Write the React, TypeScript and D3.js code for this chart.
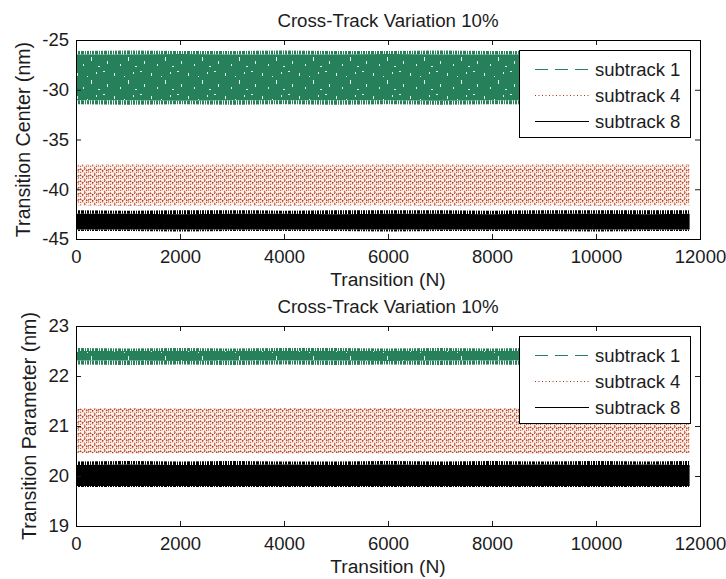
import React, { useEffect, useRef } from "react";
import * as d3 from "d3";

// sample positions along the transition index where the band edges were read
const transitionN = [0, 1000, 2000, 3000, 4000, 5000, 6000, 7000, 8000, 9000, 10000, 11000, 11800];
const xTicks = [0, 2000, 4000, 6000, 8000, 10000, 12000];
const seriesNames = ["subtrack 1", "subtrack 4", "subtrack 8"];

// Transition Center (nm), upper plot: envelope of each noisy trace
const centerYTicks = [-45, -40, -35, -30, -25];
const centerSub1Max = [-26.1, -26.05, -26.1, -26.1, -26.05, -26.1, -26.1, -26.05, -26.1, -26.1, -26.1, -26.05, -26.1];
const centerSub1CoreHi = [-26.45, -26.45, -26.4, -26.45, -26.45, -26.45, -26.4, -26.45, -26.45, -26.45, -26.45, -26.45, -26.45];
const centerSub1CoreLo = [-31.05, -31.05, -31.1, -31.05, -31.05, -31.05, -31.05, -31.1, -31.05, -31.05, -31.05, -31.05, -31.05];
const centerSub1Min = [-31.45, -31.5, -31.45, -31.5, -31.45, -31.5, -31.45, -31.5, -31.45, -31.5, -31.45, -31.5, -31.45];
const centerSub4Max = [-37.55, -37.5, -37.55, -37.5, -37.5, -37.55, -37.5, -37.5, -37.55, -37.5, -37.5, -37.55, -37.5];
const centerSub4Min = [-41.6, -41.65, -41.6, -41.6, -41.65, -41.6, -41.6, -41.65, -41.6, -41.6, -41.65, -41.6, -41.6];
const centerSub8Max = [-42.1, -42.15, -42.1, -42.1, -42.15, -42.1, -42.1, -42.1, -42.15, -42.1, -42.1, -42.1, -42.1];
const centerSub8CoreHi = [-42.45, -42.45, -42.5, -42.45, -42.45, -42.5, -42.45, -42.45, -42.5, -42.45, -42.45, -42.5, -42.45];
const centerSub8CoreLo = [-44.05, -44.05, -44.05, -44.05, -44.05, -44.05, -44.05, -44.05, -44.05, -44.05, -44.05, -44.05, -44.05];
const centerSub8Min = [-44.2, -44.2, -44.25, -44.2, -44.2, -44.2, -44.25, -44.2, -44.2, -44.2, -44.25, -44.2, -44.2];

// Transition Parameter (nm), lower plot
const paramYTicks = [19, 20, 21, 22, 23];
const paramSub1Max = [22.56, 22.55, 22.56, 22.55, 22.56, 22.56, 22.55, 22.56, 22.55, 22.56, 22.56, 22.55, 22.56];
const paramSub1CoreHi = [22.5, 22.5, 22.5, 22.5, 22.5, 22.5, 22.5, 22.5, 22.5, 22.5, 22.5, 22.5, 22.5];
const paramSub1CoreLo = [22.31, 22.31, 22.3, 22.31, 22.31, 22.31, 22.3, 22.31, 22.31, 22.31, 22.3, 22.31, 22.31];
const paramSub1Min = [22.23, 22.22, 22.23, 22.22, 22.23, 22.22, 22.23, 22.22, 22.23, 22.22, 22.23, 22.22, 22.23];
const paramSub4Max = [21.35, 21.36, 21.35, 21.35, 21.36, 21.35, 21.36, 21.35, 21.35, 21.36, 21.35, 21.36, 21.35];
const paramSub4Min = [20.46, 20.45, 20.46, 20.46, 20.45, 20.46, 20.45, 20.46, 20.46, 20.45, 20.46, 20.45, 20.46];
const paramSub8Max = [20.29, 20.3, 20.29, 20.3, 20.29, 20.29, 20.3, 20.29, 20.3, 20.29, 20.3, 20.29, 20.3];
const paramSub8CoreHi = [20.22, 20.23, 20.22, 20.22, 20.23, 20.22, 20.23, 20.22, 20.22, 20.23, 20.22, 20.23, 20.22];
const paramSub8CoreLo = [19.8, 19.8, 19.8, 19.8, 19.8, 19.8, 19.8, 19.8, 19.8, 19.8, 19.8, 19.8, 19.8];
const paramSub8Min = [19.78, 19.78, 19.78, 19.78, 19.78, 19.78, 19.78, 19.78, 19.78, 19.78, 19.78, 19.78, 19.78];

const FONT = "'Liberation Sans', Arial, Helvetica, sans-serif";
const GREEN = "#26805a";
const RED = "#a82f18";
const BLACK = "#000";
const INK = "#1c1c1c";

type Panel = {
  top: number;
  bottom: number;
  left: number;
  right: number;
  yDomain: [number, number];
  yTicks: number[];
  yLabel: string;
  yLabelX: number;
  sub1: number[][];
  sub4: number[][];
  sub8: number[][];
};

const panels: Panel[] = [
  {
    top: 40, bottom: 239, left: 76, right: 700,
    yDomain: [-45, -25], yTicks: centerYTicks,
    yLabel: "Transition Center (nm)", yLabelX: 30,
    sub1: [centerSub1Max, centerSub1CoreHi, centerSub1CoreLo, centerSub1Min],
    sub4: [centerSub4Max, centerSub4Min],
    sub8: [centerSub8Max, centerSub8CoreHi, centerSub8CoreLo, centerSub8Min],
  },
  {
    top: 326, bottom: 526, left: 76, right: 700,
    yDomain: [19, 23], yTicks: paramYTicks,
    yLabel: "Transition Parameter (nm)", yLabelX: 36,
    sub1: [paramSub1Max, paramSub1CoreHi, paramSub1CoreLo, paramSub1Min],
    sub4: [paramSub4Max, paramSub4Min],
    sub8: [paramSub8Max, paramSub8CoreHi, paramSub8CoreLo, paramSub8Min],
  },
];

function makeDefs(svg: any) {
  const defs = svg.append("defs");

  // comb texture for the ragged spiky edges of the dense traces
  const comb = (id: string, color: string) => {
    const p = defs.append("pattern").attr("id", id)
      .attr("patternUnits", "userSpaceOnUse").attr("width", 23).attr("height", 600);
    [0, 1, 3, 4, 5, 7, 9, 10, 12, 13, 14, 16, 18, 19, 21].forEach(cx => {
      p.append("rect").attr("x", cx).attr("y", 0).attr("width", 1).attr("height", 600).attr("fill", color);
    });
  };
  comb("comb-green", GREEN);
  comb("comb-black", BLACK);

  // dashed green trace: mostly filled with a few light gaps
  const gt = defs.append("pattern").attr("id", "tex-green")
    .attr("patternUnits", "userSpaceOnUse").attr("width", 37).attr("height", 23);
  gt.append("rect").attr("width", 37).attr("height", 23).attr("fill", GREEN);
  [[3, 4, 1, 3], [17, 11, 1, 4], [29, 2, 2, 1], [33, 15, 1, 3], [9, 18, 1, 2], [24, 20, 2, 1], [13, 7, 1, 1], [22, 3, 1, 2]].forEach(([sx, sy, w, h]) => {
    gt.append("rect").attr("x", sx).attr("y", sy).attr("width", w).attr("height", h).attr("fill", "#e2f4ec");
  });

  // dotted red trace: chevrons of dots on white
  const rt = defs.append("pattern").attr("id", "tex-red")
    .attr("patternUnits", "userSpaceOnUse").attr("width", 10).attr("height", 6);
  rt.append("rect").attr("width", 10).attr("height", 6).attr("fill", "#fdf1ea");
  rt.append("path").attr("d", "M0,0.8L2.5,2.8L5,0.8L7.5,2.8L10,0.8")
    .attr("fill", "none").attr("stroke", RED).attr("stroke-width", 1.2).attr("stroke-dasharray", "1.6,1");
  rt.append("path").attr("d", "M0,4.6L2.5,3.6L5,5.6L7.5,3.6L10,4.6")
    .attr("fill", "none").attr("stroke", "#b7512e").attr("stroke-width", 1.1).attr("stroke-dasharray", "1.2,1.2");
  return defs;
}

function drawPanel(svg: any, defs: any, p: Panel, idx: number) {
  const x = d3.scaleLinear().domain([0, 12000]).range([p.left, p.right]);
  const y = d3.scaleLinear().domain(p.yDomain).range([p.bottom, p.top]);

  const clipId = `plot-clip-${idx}`;
  defs.append("clipPath").attr("id", clipId).append("rect")
    .attr("x", p.left).attr("y", p.top).attr("width", p.right - p.left).attr("height", p.bottom - p.top);

  const band = (hi: number[], lo: number[]) =>
    d3.area<number>()
      .x((_, i) => x(transitionN[i]))
      .y0((_, i) => y(lo[i]))
      .y1(d => y(d))(hi);

  const plot = svg.append("g").attr("clip-path", `url(#${clipId})`);

  // subtrack 1
  const [s1max, s1hi, s1lo, s1min] = p.sub1;
  plot.append("path").attr("d", band(s1max, s1hi)).attr("fill", "url(#comb-green)");
  plot.append("path").attr("d", band(s1hi, s1lo)).attr("fill", "url(#tex-green)");
  plot.append("path").attr("d", band(s1lo, s1min)).attr("fill", "url(#comb-green)");

  // subtrack 4
  const [s4max, s4min] = p.sub4;
  plot.append("path").attr("d", band(s4max, s4min)).attr("fill", "url(#tex-red)");

  // subtrack 8
  const [s8max, s8hi, s8lo, s8min] = p.sub8;
  plot.append("path").attr("d", band(s8max, s8hi)).attr("fill", "url(#comb-black)");
  plot.append("path").attr("d", band(s8hi, s8lo)).attr("fill", BLACK);
  plot.append("path").attr("d", band(s8lo, s8min)).attr("fill", "url(#comb-black)");

  // axes, MATLAB style: ticks inside on all four sides
  const styleAxis = (g: any) => {
    g.select(".domain").remove();
    g.attr("font-family", FONT).attr("font-size", 18.5).attr("color", INK);
  };
  svg.append("g").attr("transform", `translate(0,${p.bottom})`)
    .call(d3.axisBottom(x).tickValues(xTicks).tickSizeInner(-5).tickSizeOuter(0).tickPadding(11).tickFormat(d => String(d)))
    .call(styleAxis);
  svg.append("g").attr("transform", `translate(0,${p.top})`)
    .call(d3.axisTop(x).tickValues(xTicks).tickSizeInner(-5).tickSizeOuter(0).tickFormat(() => ""))
    .call(styleAxis);
  svg.append("g").attr("transform", `translate(${p.left},0)`)
    .call(d3.axisLeft(y).tickValues(p.yTicks).tickSizeInner(-5).tickSizeOuter(0).tickPadding(7).tickFormat(d => String(d)))
    .call(styleAxis);
  svg.append("g").attr("transform", `translate(${p.right},0)`)
    .call(d3.axisRight(y).tickValues(p.yTicks).tickSizeInner(-5).tickSizeOuter(0).tickFormat(() => ""))
    .call(styleAxis);

  svg.append("rect")
    .attr("x", p.left + 0.5).attr("y", p.top + 0.5)
    .attr("width", p.right - p.left).attr("height", p.bottom - p.top)
    .attr("fill", "none").attr("stroke", "#000").attr("stroke-width", 1);

  // texts
  const midX = (p.left + p.right) / 2;
  svg.append("text").attr("x", midX).attr("y", p.top - 13)
    .attr("text-anchor", "middle").attr("font-family", FONT).attr("font-size", 18.7).attr("fill", INK)
    .text("Cross-Track Variation 10%");
  svg.append("text").attr("x", midX).attr("y", p.bottom + 47)
    .attr("text-anchor", "middle").attr("font-family", FONT).attr("font-size", 19.2).attr("fill", INK)
    .text("Transition (N)");
  svg.append("text")
    .attr("transform", `translate(${p.yLabelX},${(p.top + p.bottom) / 2}) rotate(-90)`)
    .attr("text-anchor", "middle").attr("font-family", FONT).attr("font-size", 19.6).attr("fill", INK)
    .text(p.yLabel);

  // legend
  const lx = p.right - 181;
  const ly = p.top + 10;
  const legend = svg.append("g").attr("class", "legend");
  legend.append("rect")
    .attr("x", lx + 0.5).attr("y", ly + 0.5).attr("width", 171).attr("height", 87)
    .attr("fill", "#fff").attr("stroke", "#000").attr("stroke-width", 1);
  const styles = [
    { color: GREEN, dash: "13,7" },
    { color: RED, dash: "1,2.5" },
    { color: BLACK, dash: null },
  ];
  seriesNames.forEach((name, i) => {
    const rowY = ly + 19.5 + 26 * i;
    legend.append("line")
      .attr("x1", lx + 16).attr("x2", lx + 70).attr("y1", rowY).attr("y2", rowY)
      .attr("stroke", styles[i].color).attr("stroke-width", 1)
      .attr("stroke-dasharray", styles[i].dash);
    legend.append("text")
      .attr("x", lx + 76).attr("y", rowY + 6.5)
      .attr("font-family", FONT).attr("font-size", 18.5).attr("fill", INK)
      .text(name);
  });
}

export default function App() {
  const ref = useRef<SVGSVGElement | null>(null);

  useEffect(() => {
    const svg = d3.select(ref.current);
    svg.selectAll("*").remove();
    const defs = makeDefs(svg);
    panels.forEach((p, i) => drawPanel(svg, defs, p, i));
  }, []);

  return (
    <svg
      ref={ref}
      width={726}
      height={579}
      style={{ position: "absolute", left: 0, top: 0, background: "#fff", display: "block" }}
    />
  );
}
